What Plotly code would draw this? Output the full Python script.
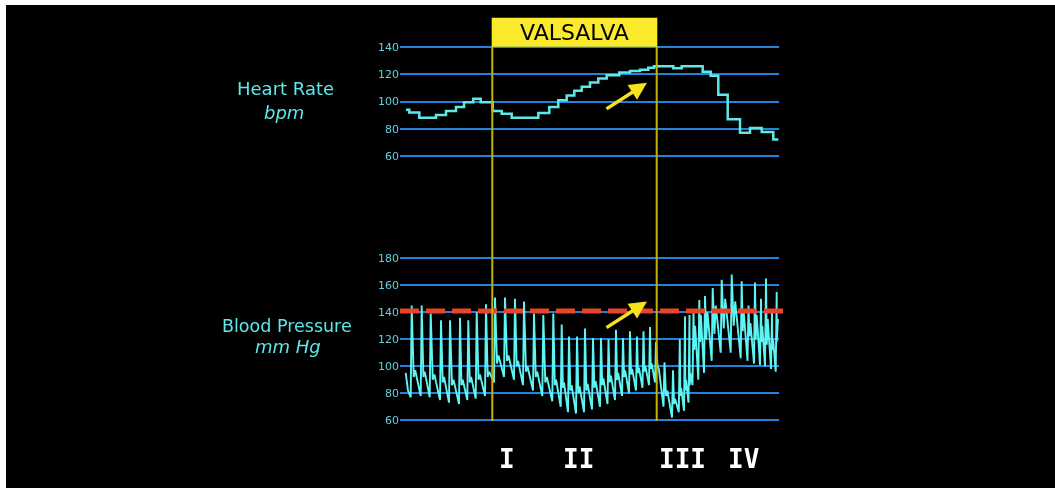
import plotly.graph_objects as go

# ---------------- data ----------------
# Heart rate (bpm), step trace; time in arbitrary units (s)
hr_t = [0.6, 0.93, 1.93, 3.6, 4.6, 5.6, 6.4, 7.33, 8.07, 9.27, 10.17, 11.17, 13.83, 14.93,
        15.83, 16.67, 17.43, 18.17, 19.0, 19.83, 20.67, 21.93, 23.0, 24.0, 24.83, 25.4, 27.33,
        28.17, 30.27, 31.07, 31.83, 32.77, 34.0, 35.0, 36.17, 37.33, 37.83]
hr_v = [94, 92, 88, 90, 93, 96, 99.5, 102, 99.5, 93, 91, 88, 91.5, 96,
        101, 104.5, 108, 111, 114, 117, 119.5, 121.5, 122.5, 123.5, 125, 126, 124.5,
        126, 122, 119, 105, 87, 77, 80.5, 77.5, 72, 72]

# Blood pressure (mm Hg), beat by beat
bp_start_t = [0.57, 0.8]
bp_start_v = [95, 82]
beat_t = [1.07, 2.07, 2.97, 4.00, 4.90, 5.90, 6.73, 7.57, 8.50,
          9.40, 10.40, 11.40, 12.30, 13.30, 14.23, 15.23, 16.07, 16.80, 17.60, 18.40, 19.20,
          20.00, 20.75, 21.50, 22.20, 22.90, 23.60, 24.25, 24.90, 25.50,
          26.35, 27.20, 27.88, 28.40, 28.85,
          29.25, 29.83, 30.40, 31.17, 32.07, 33.07, 34.07, 34.75, 35.40, 36.00, 36.50, 37.10, 37.57]
bp_dia = [77, 78, 77, 75, 73, 72, 75, 76, 78,
          88, 92, 90, 86, 82, 78, 74, 70, 66, 65, 66, 68, 70, 72, 75, 78, 80, 82, 84, 86, 88,
          70, 62, 66, 67, 73,
          86, 90, 95, 104, 110, 110, 106, 104, 102, 101, 100, 98, 96]
bp_sys = [145, 145, 139, 134, 134, 136, 134, 140, 146,
          151, 151, 150, 148, 139, 138, 139, 131, 122, 122, 128, 121, 121, 120, 127, 121, 126,
          122, 126, 129, 118,
          103, 97, 120, 137, 138,
          140, 149, 152, 158, 164, 168, 163, 145, 162, 150, 165, 140, 155]
bp_mid = [92, 92, 90, 88, 86, 86, 88, 90, 92,
          102, 104, 100, 96, 92, 88, 86, 84, 82, 80, 82, 84, 86, 88, 90, 92, 94, 95, 96, 98, 100,
          78, 72, 78, 82, 86,
          112, 118, 120, 124, 128, 130, 126, 122, 120, 118, 116, 112, 108]
bp_bump = [97, 96, 94, 92, 90, 90, 92, 94, 96,
           108, 108, 104, 100, 96, 92, 90, 88, 86, 85, 87, 89, 91, 93, 95, 97, 98, 99, 100, 102, 98,
           82, 76, 84, 90, 95,
           130, 138, 140, 145, 150, 148, 140, 132, 138, 130, 135, 120, 118]
bp_end_t = 37.8
bp_end_v = 135

baseline_bp = 141
valsalva_start, valsalva_end = 9.23, 25.67
hr_ticks = [60, 80, 100, 120, 140]
bp_ticks = [60, 80, 100, 120, 140, 160, 180]
phase_labels = ["I", "II", "III", "IV"]
phase_pos = [10.7, 17.8, 28.2, 34.3]

# ---------------- build BP path ----------------
bx = list(bp_start_t)
by = list(bp_start_v)
for i, on in enumerate(beat_t):
    nxt = beat_t[i + 1] if i + 1 < len(beat_t) else bp_end_t
    d = nxt - on
    bx += [on, on + 0.1, on + 0.3 * d, on + 0.45 * d]
    by += [bp_dia[i], bp_sys[i], bp_mid[i], bp_bump[i]]
bx.append(bp_end_t)
by.append(bp_end_v)

W, H = 1055, 488
def PX(p):
    return p / W
def PY(p):
    return 1 - p / H

CYAN = "#5ee8ea"
TICK = "#62cfe2"
GRID = "#2184da"
YEL = "#fbea2b"

fig = go.Figure()
fig.add_trace(go.Scatter(x=hr_t, y=hr_v, mode="lines", line=dict(color=CYAN, width=2.5, shape="hv"),
                         yaxis="y2", hoverinfo="skip", showlegend=False))
fig.add_trace(go.Scatter(x=bx, y=by, mode="lines", line=dict(color="#5ff4f4", width=1.9),
                         yaxis="y", hoverinfo="skip", showlegend=False))

shapes = []
# baseline dashed
shapes.append(dict(type="line", xref="paper", yref="y", x0=PX(400), x1=PX(783), y0=baseline_bp,
                   y1=baseline_bp, line=dict(color="#e8432b", width=5, dash="19px,7px"), layer="above"))
# vertical lines
for xv in (valsalva_start, valsalva_end):
    shapes.append(dict(type="line", xref="x", yref="paper", x0=xv, x1=xv, y0=PY(424), y1=PY(44),
                       line=dict(color="#c4b20a", width=2), layer="above"))
# VALSALVA box
shapes.append(dict(type="rect", xref="x", yref="paper", x0=valsalva_start - 0.06, x1=valsalva_end + 0.06,
                   y0=PY(44.5), y1=PY(15), fillcolor=YEL, line=dict(width=0), layer="above"))

def txt(text, x, y, size, color, family="DejaVu Sans", xref="paper"):
    return dict(text=text, xref=xref, yref="paper", x=x, y=y, showarrow=False,
                xanchor="center", yanchor="middle", font=dict(family=family, size=size, color=color))

annotations = [
    txt("VALSALVA", (valsalva_start + valsalva_end) / 2, PY(30), 22, "black", xref="x"),
    txt("Heart Rate", PX(285), PY(87), 18, CYAN),
    txt("<i>bpm</i>", PX(284), PY(111), 18, CYAN),
    txt("Blood Pressure", PX(287), PY(328), 17.5, CYAN),
    txt("<i>mm Hg</i>", PX(288), PY(349), 18, CYAN),
    # arrows
    dict(x=24.7, y=113.8, xref="x", yref="y2", ax=-42, ay=27, showarrow=True, text="",
         arrowhead=2, arrowsize=1, arrowwidth=3.5, arrowcolor="#f7e21c"),
    dict(x=24.7, y=147.9, xref="x", yref="y", ax=-42, ay=27, showarrow=True, text="",
         arrowhead=2, arrowsize=1, arrowwidth=3.5, arrowcolor="#f7e21c"),
]
for lab, pos in zip(phase_labels, phase_pos):
    annotations.append(txt("<b>%s</b>" % lab, pos, PY(463), 26, "white",
                           family="DejaVu Sans Mono", xref="x"))

fig.update_layout(
    width=W, height=H, margin=dict(l=0, r=0, t=0, b=0),
    paper_bgcolor="rgba(0,0,0,0)", plot_bgcolor="rgba(0,0,0,0)",
    xaxis=dict(domain=[PX(400), PX(779)], range=[0, 37.9], visible=False, fixedrange=True),
    yaxis=dict(domain=[PY(426.04), PY(256.26)], range=[58, 182], tickvals=bp_ticks,
               showgrid=True, gridcolor=GRID, gridwidth=2, zeroline=False, showline=False, ticks="",
               tickfont=dict(family="DejaVu Sans", size=11, color=TICK), anchor="x"),
    yaxis2=dict(domain=[PY(157.75), PY(42.25)], range=[58, 142], tickvals=hr_ticks,
                showgrid=True, gridcolor=GRID, gridwidth=2, zeroline=False, showline=False, ticks="",
                tickfont=dict(family="DejaVu Sans", size=11, color=TICK), anchor="x"),
    shapes=shapes, annotations=annotations, showlegend=False,
)

# slide frame: black page with a thin white strip along the top and left edges
page_js = (
    "var de=document.documentElement, b=document.body;"
    "de.style.margin='0';b.style.margin='0';"
    "de.style.overflow='hidden';b.style.overflow='hidden';"
    "de.style.backgroundColor='#000000';"
    "de.style.backgroundImage='linear-gradient(to bottom, #ffffff 5px, rgba(0,0,0,0) 5px),"
    " linear-gradient(to right, #ffffff 6px, rgba(0,0,0,0) 6px)';"
    "de.style.backgroundRepeat='no-repeat';"
    "de.style.backgroundAttachment='fixed';"
    "de.style.minHeight='100vh';"
    "b.style.background='transparent';"
    "var gd=document.querySelector('.plotly-graph-div');"
    "gd.style.position='fixed';gd.style.left='0px';gd.style.top='0px';"
)
fig.write_html("out.html", config={"displayModeBar": False}, post_script=page_js)
